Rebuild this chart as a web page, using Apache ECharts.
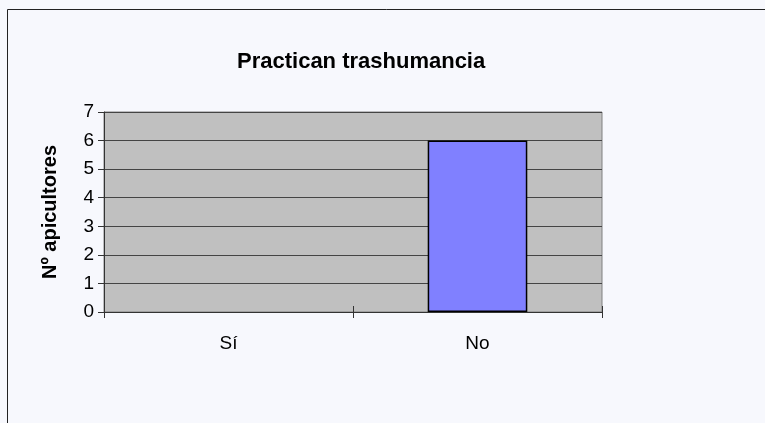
<!DOCTYPE html>
<html>
<head>
<meta charset="utf-8">
<script src="https://cdn.jsdelivr.net/npm/echarts@6/dist/echarts.min.js"></script>
<style>
  html, body { margin: 0; padding: 0; background: #F7F8FD; }
  #main { width: 765px; height: 423px; }
</style>
</head>
<body>
<div id="main"></div>
<script>
// datos del gráfico
var categorias = ['Sí', 'No'];
var valores = [0, 6];
var titulo = 'Practican trashumancia';
var nombreEjeY = 'Nº apicultores';

var myChart = echarts.init(document.getElementById('main'));
var fuente = '"Liberation Sans", Arial, sans-serif';

// las barras a cero no se dibujan (sin borde)
var datosBarras = valores.map(function (v) {
  return v === 0 ? { value: v, itemStyle: { borderWidth: 0, opacity: 0 } } : v;
});

var option = {
  backgroundColor: '#F7F8FD',
  animation: false,
  title: {
    text: titulo,
    left: 232,
    top: 46,
    textStyle: { fontFamily: fuente, fontSize: 22, fontWeight: 'bold', color: '#000' }
  },
  graphic: [
    {
      type: 'rect',
      shape: { x: 7.5, y: 9.5, width: 800, height: 500 },
      style: { fill: 'none', stroke: '#222', lineWidth: 1 },
      silent: true
    }
  ],
  grid: {
    left: 104,
    top: 112,
    right: 163,
    bottom: 111,
    show: true,
    backgroundColor: '#C0C0C0',
    borderColor: '#808080',
    borderWidth: 1
  },
  xAxis: [
    {
      type: 'category',
      data: categorias,
      axisLine: { lineStyle: { color: '#333', width: 1 } },
      axisTick: { show: true, length: 6, lineStyle: { color: '#333' } },
      axisLabel: { fontFamily: fuente, fontSize: 19, color: '#000', margin: 22 }
    },
    {
      // marcas cruzadas hacia dentro
      type: 'category',
      data: categorias,
      position: 'bottom',
      axisLine: { show: false },
      axisTick: { show: true, inside: true, length: 6, lineStyle: { color: '#333' } },
      axisLabel: { show: false }
    }
  ],
  yAxis: {
    type: 'value',
    min: 0,
    max: 7,
    interval: 1,
    name: nombreEjeY,
    nameLocation: 'middle',
    nameGap: 44,
    nameTextStyle: { fontFamily: fuente, fontSize: 20, fontWeight: 'bold', color: '#000' },
    axisLine: { show: true, lineStyle: { color: '#333', width: 1 } },
    axisTick: { show: true, length: 6, lineStyle: { color: '#333' } },
    axisLabel: { fontFamily: fuente, fontSize: 19, color: '#000', margin: 10 },
    splitLine: { show: true, lineStyle: { color: '#444', width: 1 } }
  },
  series: [
    {
      name: 'Apicultores',
      type: 'bar',
      xAxisIndex: 0,
      data: datosBarras,
      barWidth: '40%',
      itemStyle: { color: '#8080FF', borderColor: '#000', borderWidth: 1.5 }
    }
  ]
};
myChart.setOption(option);
</script>
</body>
</html>
